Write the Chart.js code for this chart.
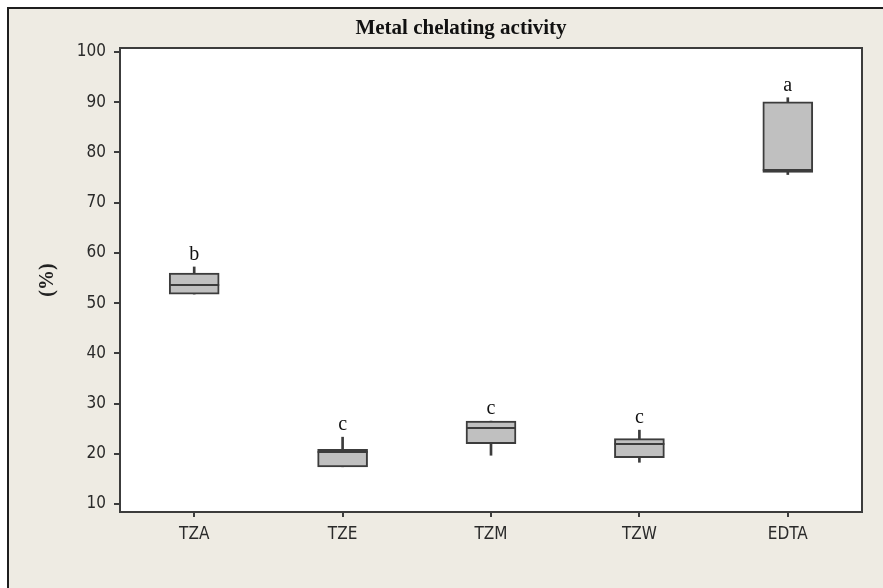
<!DOCTYPE html>
<html>
<head>
<meta charset="utf-8">
<script src="https://cdn.jsdelivr.net/npm/chart.js@4.4.1/dist/chart.umd.min.js"></script>
<style>
  html,body{margin:0;padding:0;background:#fff;}
  #frame{position:absolute;left:7px;top:7px;width:876px;height:581px;background:#eeebe3;border-top:2px solid #1e1e1e;border-left:2px solid #1e1e1e;box-sizing:border-box;}
  #wrap{position:absolute;left:0;top:0;width:883px;height:588px;}
</style>
</head>
<body>
<div id="frame"></div>
<div id="wrap"><canvas id="graphe" width="883" height="588"></canvas></div>
<script>
// values
const categories=["TZA","TZE","TZM","TZW","EDTA"];
const minVals=[51.8,17.4,19.7,18.3,75.6];
const q1Vals=[51.8,17.4,22.0,19.2,76.0];
const medians=[53.6,20.3,25.2,21.9,76.6];
const q3Vals=[56.0,20.9,26.5,23.0,90.1];
const maxVals=[57.2,23.3,26.5,24.7,90.9];
const letters=["b","c","c","c","a"];
const yTicks=[10,20,30,40,50,60,70,80,90,100];

const axisCol="#3c3c3c";
const boxFill="#c0c0c0";
const tickFont="'DejaVu Sans Condensed', 'Liberation Sans', Tahoma, sans-serif";

// white plot area, frame, medians, letters and title
const extras={
  id:"extras",
  beforeDraw(chart){
    const a=chart.chartArea, c=chart.ctx;
    c.save();
    c.fillStyle="#fff";
    c.fillRect(a.left,a.top,a.right-a.left,a.bottom-a.top);
    c.restore();
  },
  afterDatasetsDraw(chart){
    const c=chart.ctx, x=chart.scales.x, y=chart.scales.y, a=chart.chartArea;
    const meta=chart.getDatasetMeta(1);
    c.save();
    c.strokeStyle=axisCol;
    c.lineWidth=2;
    c.strokeRect(a.left,a.top,a.right-a.left,a.bottom-a.top);
    medians.forEach((m,i)=>{
      const bar=meta.data[i];
      const half=bar.width/2;
      const py=Math.round(y.getPixelForValue(m));
      c.beginPath();
      c.moveTo(bar.x-half,py);
      c.lineTo(bar.x+half,py);
      c.stroke();
    });
    c.fillStyle="#111";
    c.font="20px 'Liberation Serif', 'Times New Roman', serif";
    c.textAlign="center";
    c.textBaseline="alphabetic";
    letters.forEach((t,i)=>{
      c.fillText(t,x.getPixelForValue(i),y.getPixelForValue(maxVals[i])-7);
    });
    c.font="bold 21px 'Liberation Serif', 'Times New Roman', serif";
    c.fillText("Metal chelating activity",461,34);
    c.restore();
  }
};

var ctx=document.getElementById("graphe");
var chart=new Chart(ctx,{
  type:"bar",
  data:{
    labels:categories,
    datasets:[{
      label:"whisker",
      data:categories.map((_,i)=>[minVals[i],maxVals[i]]),
      backgroundColor:axisCol,
      borderWidth:0,
      barThickness:2,
      grouped:false,
      order:2
    },{
      label:"box",
      data:categories.map((_,i)=>[q1Vals[i],q3Vals[i]]),
      backgroundColor:boxFill,
      borderColor:axisCol,
      borderWidth:2,
      borderSkipped:false,
      barThickness:50,
      grouped:false,
      order:1
    }]
  },
  options:{
    responsive:false,
    animation:false,
    layout:{padding:{left:0,right:21,top:48,bottom:0}},
    plugins:{legend:{display:false},tooltip:{enabled:false},title:{display:false}},
    scales:{
      x:{
        offset:true,
        grid:{display:true,drawOnChartArea:false,tickLength:5,color:axisCol,lineWidth:2,offset:false},
        border:{display:true,color:axisCol,width:2},
        ticks:{color:"#2a2a2a",font:{family:tickFont,size:17},padding:7},
        afterFit(s){s.height=76;}
      },
      y:{
        min:8.4,
        max:100.8,
        grid:{display:true,drawOnChartArea:false,tickLength:6,color:axisCol,lineWidth:2},
        border:{display:true,color:axisCol,width:2},
        ticks:{color:"#2a2a2a",font:{family:tickFont,size:17},padding:8},
        afterBuildTicks(s){s.ticks=yTicks.map(v=>({value:v}));},
        afterFit(s){s.width=120;},
        title:{display:true,text:"(%)",color:"#222",font:{family:"'Liberation Serif', 'Times New Roman', serif",size:20,weight:"bold"},padding:{top:36,bottom:0}}
      }
    }
  },
  plugins:[extras]
});
</script>
</body>
</html>
